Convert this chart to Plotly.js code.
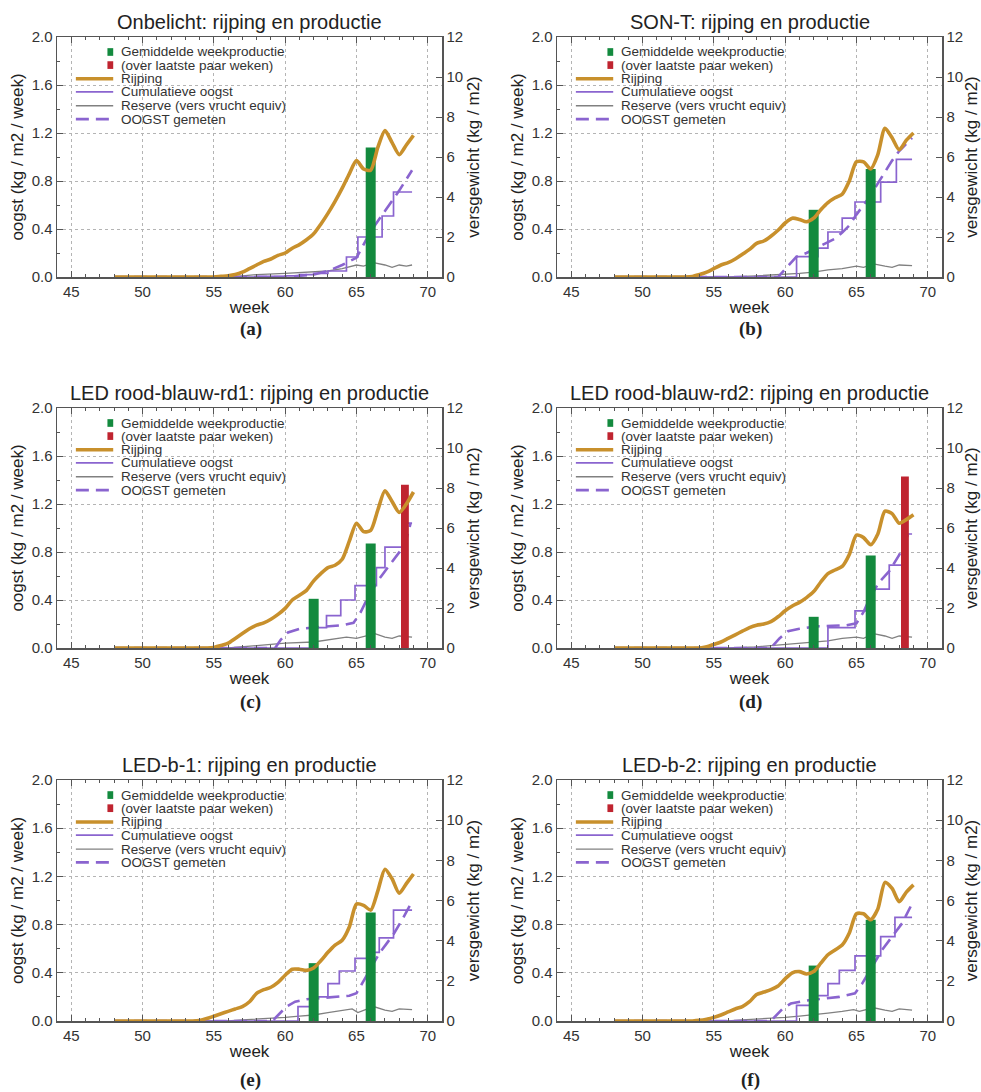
<!DOCTYPE html>
<html><head><meta charset="utf-8">
<script src="https://cdn.plot.ly/plotly-3.0.1.min.js"></script>
<style>html,body{margin:0;padding:0;background:#fff}</style>
</head><body><div id="chart" style="width:981px;height:1092px"></div>
<script>
// ---------- data ----------
const panelTitles = ['Onbelicht: rijping en productie','SON-T: rijping en productie','LED rood-blauw-rd1: rijping en productie','LED rood-blauw-rd2: rijping en productie','LED-b-1: rijping en productie','LED-b-2: rijping en productie'];
const panelLabels = ['(a)','(b)','(c)','(d)','(e)','(f)'];
const legendLabels = ['Gemiddelde weekproductie','(over laatste paar weken)','Rijping','Cumulatieve oogst','Reserve (vers vrucht equiv)','OOGST gemeten'];

const weeks = [48,48.5,49,49.5,50,50.5,51,51.5,52,52.5,53,53.5,54,54.5,55,55.5,56,56.5,57,57.5,58,58.5,59,59.5,60,60.5,61,61.5,62,62.5,63,63.5,64,64.5,65,65.5,66,66.5,67,67.5,68,68.5,69];

// Rijping (kg/m2/week, left axis)
const rijpingA = [0,0,0,0,0,0,0,0,0,0,0,0,0,0,0,0.005,0.01,0.02,0.04,0.07,0.1,0.13,0.15,0.18,0.2,0.24,0.27,0.31,0.36,0.44,0.53,0.63,0.74,0.86,0.97,0.9,0.89,1.08,1.22,1.12,1.02,1.1,1.18];
const rijpingB = [0,0,0,0,0,0,0,0,0,0,0,0.005,0.02,0.04,0.07,0.1,0.12,0.15,0.19,0.23,0.28,0.3,0.34,0.39,0.45,0.49,0.48,0.46,0.49,0.56,0.62,0.66,0.69,0.8,0.96,0.96,0.9,1.02,1.24,1.16,1.06,1.14,1.2];
const rijpingC = [0,0,0,0,0,0,0,0,0,0,0,0,0,0,0.005,0.02,0.04,0.08,0.12,0.16,0.19,0.21,0.24,0.28,0.33,0.4,0.44,0.48,0.56,0.62,0.67,0.69,0.74,0.89,1.04,0.97,0.98,1.15,1.31,1.22,1.13,1.2,1.3];
const rijpingD = [0,0,0,0,0,0,0,0,0,0,0,0,0,0.01,0.03,0.05,0.08,0.11,0.14,0.17,0.19,0.2,0.22,0.26,0.31,0.35,0.38,0.42,0.47,0.55,0.62,0.65,0.68,0.78,0.94,0.92,0.86,0.95,1.14,1.12,1.04,1.07,1.11];
const rijpingE = [0,0,0,0,0,0,0,0,0,0,0,0,0.005,0.02,0.04,0.06,0.08,0.1,0.12,0.16,0.23,0.26,0.28,0.32,0.38,0.43,0.43,0.42,0.44,0.5,0.57,0.63,0.67,0.78,0.97,0.96,0.92,1.08,1.26,1.18,1.06,1.14,1.22];
const rijpingF = [0,0,0,0,0,0,0,0,0,0,0,0,0.005,0.015,0.03,0.05,0.075,0.1,0.12,0.16,0.22,0.24,0.26,0.29,0.35,0.4,0.41,0.39,0.41,0.48,0.55,0.59,0.63,0.73,0.89,0.89,0.84,0.93,1.15,1.1,0.99,1.07,1.13];

// Cumulatieve oogst (kg/m2, right axis, step line)
const cumWeeksA = [48,58,60,61,62,63,64.3,65.1,66.8,67.6,68.9];
const cumA      = [0,0.03,0.06,0.12,0.18,0.3,1.0,2.0,3.05,4.25,4.25];
const cumWeeksB = [48,60.8,62.3,63.0,64.0,64.9,66.7,67.8,68.9];
const cumB      = [0,1.02,1.44,2.25,2.94,3.75,4.74,5.88,5.88];
const cumWeeksC = [48,61.8,62.9,63.9,64.9,66.4,67.0,68.5,68.9];
const cumC      = [0,1.02,1.62,2.4,3.12,4.02,5.04,6.24,6.24];
const cumWeeksD = [48,63.0,64.9,65.9,67.3,68.4,68.9];
const cumD      = [0,1.02,1.86,2.94,4.14,5.7,5.7];
const cumWeeksE = [48,60.9,62.0,63.0,63.8,64.9,65.8,66.6,67.6,68.9];
const cumE      = [0,0.72,1.2,1.86,2.49,3.12,3.42,4.14,5.52,5.52];
const cumWeeksF = [48,60.8,62.0,63.0,63.8,64.9,66.7,67.7,68.9];
const cumF      = [0,0.78,1.26,1.86,2.52,3.24,4.2,5.16,5.16];

// OOGST gemeten (kg/m2, right axis, dashed)
const gemWeeksA = [48,60,61,62,63,64,65,66,67,68,68.9];
const gemA      = [0,0,0.06,0.12,0.3,0.6,0.96,2.28,3.3,4.32,5.34];
const gemWeeksB = [48,59.5,60.8,61.5,62,62.5,63,63.5,64,64.5,65,65.5,66,66.5,67,67.5,68,68.5,68.9];
const gemB      = [0,0,1.02,1.2,1.38,1.56,1.74,1.92,2.22,2.58,3.12,3.6,4.08,4.68,5.28,5.82,6.3,6.66,6.96];
const gemWeeksC = [48,59.3,59.7,60.2,61,62,63,64,64.8,65.3,65.8,66.5,67,67.5,68,68.4,68.8];
const gemC      = [0,0,0.42,0.78,0.96,1.02,1.08,1.14,1.26,1.8,2.52,3.36,3.84,4.32,4.8,5.16,6.24];
const gemWeeksD = [48,59,59.6,60.2,61,62.2,63.3,64.3,65,65.5,65.9,66.6,67.3,68,68.6,68.8];
const gemD      = [0,0,0.48,0.84,0.96,1.08,1.11,1.14,1.23,1.8,2.46,3.3,3.84,4.65,5.64,5.88];
const gemWeeksE = [48,59.1,59.6,60.1,60.7,61.5,62.5,63.5,64.5,65,65.5,66,66.6,67.1,67.6,68.2,68.8];
const gemE      = [0,0,0.36,0.72,0.96,1.08,1.14,1.2,1.26,1.38,1.98,2.64,3.36,3.84,4.32,5.04,5.82];
const gemWeeksF = [48,59,59.8,60.4,61.5,62.9,63.8,64.9,65.4,66.1,66.8,67.5,68.2,68.8];
const gemF      = [0,0,0.6,0.87,1.02,1.11,1.2,1.38,1.86,2.7,3.54,4.2,4.86,5.7];

// Reserve (vers vrucht equiv) (kg/m2, right axis)
const resWeeksA = [48,56,57,58,60,61,62,63,64,65,65.5,66.2,67,67.5,68,68.5,68.9];
const resA      = [0,0,0.06,0.12,0.18,0.21,0.24,0.3,0.42,0.6,0.54,0.72,0.6,0.48,0.6,0.54,0.6];
const resWeeksB = [48,56,58,60,61,62,63,64,65,65.5,66.2,67,67.5,68,68.5,68.9];
const resB      = [0,0,0.06,0.12,0.18,0.24,0.36,0.42,0.54,0.48,0.66,0.54,0.48,0.6,0.6,0.57];
const resWeeksC = [48,56,58,60,62,63,64.3,65,66.3,67,67.5,68,68.9];
const resC      = [0,0,0.12,0.24,0.3,0.42,0.54,0.48,0.72,0.54,0.48,0.6,0.54];
const resWeeksD = [48,56,58,60,62,63,64,65,65.5,66.2,67,67.5,68,68.9];
const resD      = [0,0,0.06,0.18,0.3,0.36,0.48,0.54,0.48,0.72,0.6,0.48,0.6,0.54];
const resWeeksE = [48,56,57,58,59,60,61,62,63,64,64.7,65.1,65.5,66.2,67,67.5,68,68.5,68.9];
const resE      = [0,0,0.06,0.09,0.12,0.18,0.24,0.3,0.42,0.51,0.6,0.42,0.54,0.72,0.54,0.48,0.6,0.6,0.57];
const resWeeksF = [48,56,57,58,60,61,62,63,64,64.8,65.2,66.2,67,67.5,68,68.5,68.9];
const resF      = [0,0,0.06,0.09,0.18,0.24,0.3,0.39,0.48,0.57,0.48,0.66,0.54,0.48,0.6,0.57,0.54];

// Gemiddelde weekproductie (green) and last weeks (red), kg/m2/week, left axis
const greenWeeksA = [66];     const greenA = [1.08];
const greenWeeksB = [62,66];  const greenB = [0.56,0.9];
const greenWeeksC = [62,66];  const greenC = [0.41,0.87];
const greenWeeksD = [62,66];  const greenD = [0.26,0.77];
const greenWeeksE = [62,66];  const greenE = [0.48,0.9];
const greenWeeksF = [62,66];  const greenF = [0.46,0.84];
const redWeeksC = [68.4]; const redC = [1.36];
const redWeeksD = [68.4]; const redD = [1.43];

// ---------- build ----------
const panels = [
  {rij:rijpingA, cw:cumWeeksA, c:cumA, gw:gemWeeksA, g:gemA, rw:resWeeksA, r:resA, bw:greenWeeksA, b:greenA, redw:[], red:[]},
  {rij:rijpingB, cw:cumWeeksB, c:cumB, gw:gemWeeksB, g:gemB, rw:resWeeksB, r:resB, bw:greenWeeksB, b:greenB, redw:[], red:[]},
  {rij:rijpingC, cw:cumWeeksC, c:cumC, gw:gemWeeksC, g:gemC, rw:resWeeksC, r:resC, bw:greenWeeksC, b:greenC, redw:redWeeksC, red:redC},
  {rij:rijpingD, cw:cumWeeksD, c:cumD, gw:gemWeeksD, g:gemD, rw:resWeeksD, r:resD, bw:greenWeeksD, b:greenD, redw:redWeeksD, red:redD},
  {rij:rijpingE, cw:cumWeeksE, c:cumE, gw:gemWeeksE, g:gemE, rw:resWeeksE, r:resE, bw:greenWeeksE, b:greenE, redw:[], red:[]},
  {rij:rijpingF, cw:cumWeeksF, c:cumF, gw:gemWeeksF, g:gemF, rw:resWeeksF, r:resF, bw:greenWeeksF, b:greenF, redw:[], red:[]}
];

const W = 981, H = 1092;
const cols = [[57,442],[557,942]];
const rows = [[37,277],[408,648],[780,1021]];
const labelY = [329,702,1080];

const GOLD = '#c8902c', PURPLE = '#8a64cf', GREEN = '#138a3e', RED = '#bf2430', GRAY = '#808080';
const FONT = 'Liberation Sans, Arial, sans-serif';
const AXC = '#555';
const GRIDC = '#b4b4b4';

const data = [];
const layout = {
  width: W, height: H, margin:{l:0,r:0,t:0,b:0},
  paper_bgcolor:'#ffffff', plot_bgcolor:'rgba(0,0,0,0)',
  font:{family:FONT, color:'#333', size:15},
  showlegend:false, barmode:'overlay', hovermode:false,
  shapes:[], annotations:[]
};

panels.forEach((p, i) => {
  const col = cols[i % 2], row = rows[Math.floor(i / 2)];
  const xd = [col[0] / W, col[1] / W];
  const yd = [1 - row[1] / H, 1 - row[0] / H];
  const xid = i === 0 ? 'x' : 'x' + (i + 1);
  const ylid = i === 0 ? 'y' : 'y' + (i + 1);
  const yrid = 'y' + (i + 7);
  const xkey = 'xaxis' + (i === 0 ? '' : i + 1);
  const ylkey = 'yaxis' + (i === 0 ? '' : i + 1);
  const yrkey = 'yaxis' + (i + 7);

  layout[xkey] = {
    domain: xd, anchor: yrid, range: [44, 71], dtick: 5,
    ticks: 'inside', ticklen: 6, tickcolor: AXC, tickwidth: 1,
    showline: true, linecolor: AXC, linewidth: 1.5, mirror: 'ticks',
    showgrid: true, gridcolor: GRIDC, griddash: 'dot', gridwidth: 1, zeroline: false,
    minor: {dtick: 1, ticks: 'inside', ticklen: 3, tickcolor: AXC, showgrid: false},
    tickfont: {size: 15, color: '#333'},
    title: {text: 'week', font: {size: 17, color: '#222'}, standoff: 2}
  };
  layout[yrkey] = {
    domain: yd, anchor: xid, side: 'right', range: [0, 12], dtick: 2,
    ticks: 'inside', ticklen: 6, tickcolor: AXC,
    showline: true, linecolor: AXC, linewidth: 1.5,
    showgrid: false, zeroline: false,
    tickfont: {size: 15, color: '#333'},
    title: {text: 'versgewicht (kg / m2)', font: {size: 17, color: '#222'}, standoff: 5}
  };
  layout[ylkey] = {
    domain: yd, anchor: xid, overlaying: yrid, side: 'left', range: [0, 2], dtick: 0.4, tickformat: '.1f',
    ticks: 'inside', ticklen: 6, tickcolor: AXC,
    showline: true, linecolor: AXC, linewidth: 1.5,
    showgrid: true, gridcolor: GRIDC, griddash: 'dot', gridwidth: 1, zeroline: false,
    minor: {dtick: 0.2, ticks: 'inside', ticklen: 3, tickcolor: AXC, showgrid: false},
    tickfont: {size: 15, color: '#333'},
    title: {text: 'oogst (kg / m2 / week)', font: {size: 17, color: '#222'}, standoff: 3}
  };

  // right-axis traces (drawn first, underneath)
  data.push({type:'scatter', mode:'lines', x:p.rw, y:p.r, xaxis:xid, yaxis:yrid,
             line:{color:GRAY, width:1.3}, name:legendLabels[4]});
  data.push({type:'scatter', mode:'lines', x:p.cw, y:p.c, xaxis:xid, yaxis:yrid,
             line:{color:PURPLE, width:1.7, shape:'hv'}, name:legendLabels[3]});
  data.push({type:'scatter', mode:'lines', x:p.gw, y:p.g, xaxis:xid, yaxis:yrid,
             line:{color:PURPLE, width:2.6, dash:'13px,7px'}, name:legendLabels[5]});
  // left-axis traces (overlay, on top)
  data.push({type:'bar', x:p.bw, y:p.b, xaxis:xid, yaxis:ylid, width:0.7,
             marker:{color:GREEN, line:{width:0}}, name:legendLabels[0]});
  if (p.redw.length) {
    data.push({type:'bar', x:p.redw, y:p.red, xaxis:xid, yaxis:ylid, width:0.55,
               marker:{color:RED, line:{width:0}}, name:legendLabels[1]});
  }
  data.push({type:'scatter', mode:'lines', x:weeks, y:p.rij, xaxis:xid, yaxis:ylid,
             line:{color:GOLD, width:3.6, shape:'spline', smoothing:0.7}, name:legendLabels[2]});

  // panel title
  layout.annotations.push({text: panelTitles[i], xref:'paper', yref:'paper',
    x: (col[0] + col[1]) / 2 / W, y: 1 - (row[0] - 15) / H, xanchor:'center', yanchor:'middle',
    showarrow:false, font:{size:20, color:'#222'}});
  // panel label
  layout.annotations.push({text: '<b>' + panelLabels[i] + '</b>', xref:'paper', yref:'paper',
    x: ((col[0] + col[1]) / 2 + 1) / W, y: 1 - labelY[Math.floor(i / 2)] / H, xanchor:'center', yanchor:'middle',
    showarrow:false, font:{size:19, color:'#222', family:'Liberation Serif, DejaVu Serif, serif'}});

  // manual compact legend
  const xr = xid + ' domain', yr = ylid + ' domain';
  const rowsY = [0.9375, 0.883, 0.826, 0.771, 0.7135, 0.658];
  const sqX0 = 0.131, sqX1 = 0.146, lnX0 = 0.049, lnX1 = 0.146, txX = 0.160;
  layout.shapes.push({type:'rect', xref:xr, yref:yr, x0:sqX0, x1:sqX1, y0:rowsY[0]-0.016, y1:rowsY[0]+0.016, fillcolor:GREEN, line:{width:0}});
  layout.shapes.push({type:'rect', xref:xr, yref:yr, x0:sqX0, x1:sqX1, y0:rowsY[1]-0.016, y1:rowsY[1]+0.016, fillcolor:RED, line:{width:0}});
  layout.shapes.push({type:'line', xref:xr, yref:yr, x0:lnX0, x1:lnX1, y0:rowsY[2], y1:rowsY[2], line:{color:GOLD, width:3.6}});
  layout.shapes.push({type:'line', xref:xr, yref:yr, x0:lnX0, x1:lnX1, y0:rowsY[3], y1:rowsY[3], line:{color:PURPLE, width:1.7}});
  layout.shapes.push({type:'line', xref:xr, yref:yr, x0:lnX0, x1:lnX1, y0:rowsY[4], y1:rowsY[4], line:{color:GRAY, width:1.3}});
  layout.shapes.push({type:'line', xref:xr, yref:yr, x0:lnX0, x1:lnX1, y0:rowsY[5], y1:rowsY[5], line:{color:PURPLE, width:2.6, dash:'13px,7px'}});
  legendLabels.forEach((t, k) => {
    layout.annotations.push({text:t, xref:xr, yref:yr, x:txX, y:rowsY[k], xanchor:'left', yanchor:'middle',
      showarrow:false, font:{size:13.5, color:'#333'}});
  });
});

Plotly.newPlot('chart', data, layout, {staticPlot:true, displayModeBar:false});
</script>
</body></html>
